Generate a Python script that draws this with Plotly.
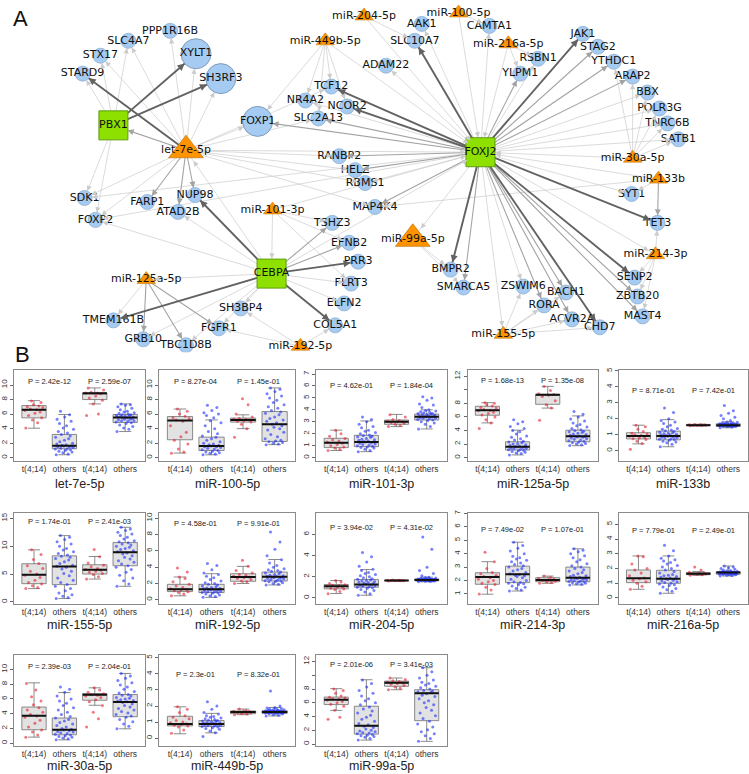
import math
import plotly.graph_objects as go

W, H = 749, 774

# ------------------------------------------------------------------ Panel A data
NODE_NAMES = ["PPP1R16B", "SLC4A7", "STX17", "STARD9", "SDK1", "FOXP2", "FARP1", "NUP98", "ATAD2B",
              "TMEM161B", "GRB10", "TBC1D8B", "FGFR1", "SH3BP4", "TSHZ3", "EFNB2", "PRR3", "FLRT3",
              "ELFN2", "COL5A1", "MAP4K4", "RBMS1", "HELZ", "RANBP2", "SLC2A13", "NR4A2", "NCOR2",
              "TCF12", "ADAM22", "SLC10A7", "AAK1", "CAMTA1", "RSBN1", "YLPM1", "JAK1", "STAG2",
              "YTHDC1", "ARAP2", "BBX", "POLR3G", "TNRC6B", "SATB1", "SYT1", "TET3", "SENP2",
              "ZBTB20", "MAST4", "CHD7", "ACVR2A", "BACH1", "RORA", "ZSWIM6", "SMARCA5", "BMPR2",
              "XYLT1", "SH3RF3", "FOXP1",
              "PBX1", "FOXJ2", "CEBPA",
              "miR-204-5p", "miR-100-5p", "miR-449b-5p", "miR-216a-5p", "miR-30a-5p", "miR-133b",
              "miR-214-3p", "miR-155-5p", "miR-192-5p", "miR-101-3p", "miR-125a-5p",
              "let-7e-5p", "miR-99a-5p"]
NODE_X = [167, 125, 97, 79, 81, 92, 144, 192, 175,
          110, 140, 183, 216, 238, 330, 347, 356, 349,
          342, 333, 373, 363, 353, 337, 316, 303, 345,
          329, 384, 413, 420, 488, 537, 519, 582, 597,
          613, 632, 647, 659, 667, 678, 631, 657, 634,
          637, 642, 599, 571, 565, 543, 522, 462, 449,
          193, 218, 255,
          110, 479, 269,
          362, 457, 323, 507, 632, 658,
          655, 502, 298, 270, 143,
          183, 411]
NODE_Y = [27, 37, 52, 70, 195, 217, 199, 192, 209,
          318, 337, 343, 326, 306, 220, 240, 259, 281,
          301, 323, 204, 180, 167, 153, 115, 97, 103,
          83, 62, 37, 20, 22, 55, 70, 30, 43,
          58, 73, 89, 105, 120, 136, 191, 220, 275,
          294, 314, 325, 317, 290, 303, 284, 285, 267,
          50, 75, 118,
          122, 149, 271,
          12, 9, 37, 40, 155, 176,
          252, 332, 344, 207, 277,
          147, 236]
NODE_KIND = ["g"] * 54 + ["G"] * 3 + ["t"] * 3 + ["m"] * 11 + ["M"] * 2

EDGE_SRC = (["PBX1"] * 7 + ["let-7e-5p"] * 20 + ["CEBPA"] * 17 + ["FOXJ2"] * 40 +
            ["miR-449b-5p"] * 6 + ["miR-204-5p"] * 2 + ["miR-100-5p"] * 2 + ["miR-216a-5p"] * 3 +
            ["miR-30a-5p"] * 7 + ["miR-133b"] * 4 + ["miR-214-3p"] * 4 + ["miR-155-5p"] * 5 +
            ["miR-99a-5p"] * 2 + ["miR-101-3p"] * 5 + ["miR-125a-5p"] * 4 + ["miR-192-5p"] * 3)
EDGE_DST = ["STARD9", "STX17", "SLC4A7", "XYLT1", "SH3RF3", "SDK1", "FOXP2",
            "PBX1", "STARD9", "STX17", "PPP1R16B", "SLC4A7", "XYLT1", "SH3RF3", "FOXP1", "SDK1", "FOXP2",
            "FARP1", "NUP98", "ATAD2B", "RANBP2", "HELZ", "RBMS1", "MAP4K4", "FOXJ2", "TCF12", "SLC2A13",
            "let-7e-5p", "NUP98", "ATAD2B", "FOXP2", "TSHZ3", "EFNB2", "PRR3", "FLRT3", "ELFN2", "COL5A1",
            "TMEM161B", "SH3BP4", "FGFR1", "TBC1D8B", "GRB10", "miR-125a-5p", "FOXJ2",
            "SLC10A7", "AAK1", "CAMTA1", "YLPM1", "RSBN1", "JAK1", "STAG2", "YTHDC1", "ARAP2", "BBX",
            "POLR3G", "TNRC6B", "SATB1", "SYT1", "TET3", "SENP2", "ZBTB20", "MAST4", "CHD7", "ACVR2A",
            "BACH1", "RORA", "ZSWIM6", "SMARCA5", "BMPR2", "MAP4K4", "RBMS1", "HELZ", "RANBP2", "FOXP1",
            "SLC2A13", "NCOR2", "TCF12", "NR4A2", "ADAM22", "miR-99a-5p", "miR-155-5p", "FOXP2", "SDK1",
            "miR-214-3p",
            "TCF12", "NR4A2", "NCOR2", "SLC2A13", "FOXP1", "FOXJ2",
            "SLC10A7", "FOXJ2",
            "FOXJ2", "CAMTA1",
            "YLPM1", "RSBN1", "FOXJ2",
            "YTHDC1", "ARAP2", "BBX", "POLR3G", "TNRC6B", "SATB1", "FOXJ2",
            "SYT1", "TET3", "FOXJ2", "MAP4K4",
            "TET3", "SENP2", "ZBTB20", "MAST4",
            "ZSWIM6", "RORA", "BACH1", "ACVR2A", "CHD7",
            "BMPR2", "SMARCA5",
            "CEBPA", "TSHZ3", "EFNB2", "FLRT3", "FOXJ2",
            "TMEM161B", "GRB10", "TBC1D8B", "FGFR1",
            "COL5A1", "FGFR1", "SH3BP4"]
EDGE_WT = [1, 1, 1, 3, 3, 1, 1,
           2, 3, 1, 1, 1, 1, 1, 1, 1, 1, 2, 2, 2, 1, 1, 1, 1, 1, 1, 1,
           1, 3, 1, 1, 2, 2, 3, 1, 1, 3, 3, 1, 1, 1, 1, 1, 1,
           3, 1, 1, 2, 1, 3, 2, 2, 2, 1, 1, 1, 1, 1, 3, 3, 2, 2, 3, 2,
           2, 2, 1, 2, 3, 2, 1, 2, 2, 2, 2, 3, 3, 1, 1, 1, 1, 1, 1, 1,
           1, 1, 1, 1, 1, 1,
           1, 1,
           1, 1,
           1, 1, 1,
           1, 1, 1, 1, 1, 1, 1,
           1, 2, 1, 1,
           1, 1, 1, 1,
           1, 1, 1, 1, 1,
           1, 1,
           1, 1, 1, 1, 1,
           1, 2, 2, 2,
           1, 1, 1]

# ------------------------------------------------------------------ Panel B data
MIRNAS = ["let-7e-5p", "miR-100-5p", "miR-101-3p", "miR-125a-5p", "miR-133b",
          "miR-155-5p", "miR-192-5p", "miR-204-5p", "miR-214-3p", "miR-216a-5p",
          "miR-30a-5p", "miR-449b-5p", "miR-99a-5p"]
GROUP_LABELS = ["t(4;14)", "others", "t(4;14)", "others"]
P_LEFT = ["2.42e-12", "8.27e-04", "4.62e-01", "1.68e-13", "8.71e-01",
          "1.74e-01", "4.58e-01", "3.94e-02", "7.49e-02", "7.79e-01",
          "2.39e-03", "2.3e-01", "2.01e-06"]
P_RIGHT = ["2.59e-07", "1.45e-01", "1.84e-04", "1.35e-08", "7.42e-01",
           "2.41e-03", "9.91e-01", "4.31e-02", "1.07e-01", "2.49e-01",
           "2.04e-01", "8.32e-01", "3.41e-03"]
Y_TICKS = [[0, 2, 4, 6, 8, 10], [0, 2, 4, 6, 8, 10], [0, 1, 2, 3, 4, 5, 6, 7],
           [0, 2, 4, 6, 8, 10, 12], [0, 1, 2, 3, 4, 5],
           [0, 5, 10, 15], [0, 2, 4, 6, 8, 10], [0, 2, 4, 6], [1, 2, 3, 4, 5, 6, 7], [0, 1, 2, 3, 4, 5],
           [0, 2, 4, 6, 8, 10], [0, 1, 2, 3, 4, 5], [0, 2, 4, 6, 8, 10, 12]]
Y_TICK_TEXT = [None, None, None, ["0", "2", "4", "6", "8", "", "12"], None,
               None, None, None, None, None,
               None, None, ["0", "2", "4", "6", "8", "", "12"]]
Y_RANGES = [[-0.4, 12.05], [-0.4, 12.05], [-0.25, 7.33], [-0.44, 12.9], [-0.62, 5.05],
            [-0.36, 15.9], [-0.5, 10.6], [-0.57, 8.0], [0.26, 7.0], [-0.4, 5.74],
            [-0.4, 12.0], [-0.5, 5.2], [-0.3, 13.0]]
P_Y = [10.55, 10.55, 6.08, 11.4, 3.8, 14.5, 9.35, 6.7, 5.8, 4.57, 10.45, 3.97, 11.6]

BOX_LOW = [[4.06, 0.41, 7.4, 3.6], [0.64, 0.4, 4.0, 1.8], [0.6, 0.5, 2.6, 2.4], [5.12, 0.4, 7.3, 1.76],
           [0.43, 0.25, 1.56, 1.44], [2.38, 0.6, 4.1, 2.8], [0.49, 0.3, 2.0, 1.82], [0.41, 0.25, 1.6, 1.52],
           [0.98, 1.22, 1.79, 1.67], [0.59, 0.32, 1.54, 1.49], [0.82, 0.45, 5.14, 1.95],
           [0.27, 0.33, 1.46, 1.38], [4.9, 0.58, 7.9, 0.4]]
BOX_Q1 = [[5.48, 1.23, 8.0, 4.84], [2.47, 1.0, 4.9, 2.24], [0.84, 0.92, 2.79, 3.15], [6.25, 1.12, 7.86, 2.34],
          [0.74, 0.68, 1.58, 1.52], [3.27, 3.1, 5.0, 6.49], [1.01, 0.89, 2.27, 2.3], [0.85, 1.01, 1.62, 1.61],
          [1.72, 1.84, 1.91, 1.91], [1.04, 1.0, 1.58, 1.61], [1.82, 1.14, 5.82, 3.59],
          [0.76, 0.72, 1.52, 1.54], [5.74, 1.45, 8.4, 3.4]]
BOX_MED = [[6.58, 1.64, 8.86, 5.52], [5.11, 1.6, 5.2, 4.6], [1.25, 1.31, 3.0, 3.43], [6.98, 1.6, 9.27, 3.17],
           [0.93, 0.93, 1.6, 1.6], [4.88, 6.37, 5.77, 8.93], [1.3, 1.3, 2.8, 2.83], [1.1, 1.26, 1.64, 1.7],
           [2.26, 2.46, 2.04, 2.21], [1.33, 1.31, 1.65, 1.72], [3.73, 1.82, 6.55, 5.59],
           [0.88, 0.88, 1.63, 1.63], [6.46, 2.65, 8.9, 7.4]]
BOX_Q3 = [[7.17, 3.2, 8.9, 5.94], [5.66, 2.83, 5.45, 6.35], [1.62, 1.87, 3.15, 3.65], [7.57, 2.34, 9.32, 4.05],
          [1.13, 1.23, 1.65, 1.69], [6.85, 8.27, 6.67, 10.65], [1.9, 1.9, 3.2, 3.4], [1.26, 1.74, 1.67, 1.8],
          [2.58, 3.07, 2.21, 3.0], [1.9, 1.88, 1.72, 1.79], [4.9, 3.41, 6.73, 6.59],
          [1.36, 1.09, 1.69, 1.71], [6.83, 5.5, 9.15, 7.9]]
BOX_HIGH = [[7.85, 5.94, 9.6, 7.4], [6.7, 5.2, 5.9, 9.6], [2.3, 3.07, 3.62, 4.0], [8.1, 4.05, 10.5, 6.15],
            [1.6, 1.95, 1.65, 1.81], [9.35, 11.9, 8.15, 13.4], [2.8, 3.2, 4.1, 4.94], [1.64, 2.68, 1.68, 1.96],
            [3.4, 4.85, 2.33, 4.36], [2.85, 2.85, 1.79, 2.17], [8.18, 6.86, 7.5, 9.45],
            [1.95, 1.54, 1.81, 1.91], [8.05, 9.35, 9.6, 11.1]]

PTS_LET7E = [[4.1, 4.8, 5.2, 5.5, 5.8, 6.1, 6.3, 6.5, 6.6, 6.7, 6.9, 7.0, 7.1, 7.3, 7.6, 7.8],
             [0.4, 0.5, 0.7, 0.8, 0.9, 1.0, 1.1, 1.2, 1.2, 1.3, 1.4, 1.5, 1.5, 1.6, 1.6, 1.7, 1.8, 1.9, 2.0,
              2.2, 2.4, 2.6, 2.8, 3.0, 3.2, 3.4, 3.6, 3.9, 4.1, 4.4, 4.7, 5.0, 5.3, 5.6, 5.9, 6.4],
             [5.8, 6.0, 7.4, 7.9, 8.2, 8.5, 8.8, 8.9, 8.9, 9.0, 9.3, 9.6],
             [3.6, 3.9, 4.1, 4.3, 4.5, 4.7, 4.8, 4.9, 5.0, 5.1, 5.1, 5.2, 5.3, 5.3, 5.4, 5.5, 5.5, 5.6, 5.6,
              5.7, 5.7, 5.8, 5.8, 5.9, 5.9, 6.0, 6.1, 6.2, 6.3, 6.4, 6.6, 6.8, 7.0, 7.2, 7.3, 7.4]]
PTS_MIR100 = [[0.6, 0.8, 1.2, 1.9, 2.4, 2.9, 3.5, 4.4, 5.0, 5.2, 5.4, 5.5, 5.7, 6.0, 6.4, 6.7],
              [0.4, 0.5, 0.6, 0.7, 0.8, 0.9, 1.0, 1.1, 1.2, 1.3, 1.4, 1.5, 1.5, 1.6, 1.7, 1.8, 1.9, 2.0,
               2.2, 2.4, 2.6, 2.8, 3.0, 3.3, 3.6, 4.0, 4.4, 4.8, 5.1, 5.5, 5.8, 6.0, 6.2, 6.5, 6.9, 7.2],
              [2.8, 4.0, 4.6, 4.9, 5.0, 5.1, 5.2, 5.3, 5.3, 5.4, 5.6, 6.0, 7.3, 8.1],
              [1.8, 1.9, 2.0, 2.1, 2.2, 2.3, 2.4, 2.6, 2.9, 3.2, 3.5, 3.8, 4.0, 4.2, 4.4, 4.6, 4.8, 5.0,
               5.2, 5.4, 5.6, 5.9, 6.1, 6.3, 6.5, 6.8, 7.0, 7.3, 7.6, 7.9, 8.2, 8.5, 8.8, 9.1, 9.4, 9.6]]
PTS_MIR101 = [[0.6, 0.7, 0.8, 0.9, 1.0, 1.1, 1.2, 1.3, 1.4, 1.5, 1.6, 1.8, 2.0, 2.3],
              [0.5, 0.6, 0.7, 0.8, 0.85, 0.9, 0.95, 1.0, 1.05, 1.1, 1.15, 1.2, 1.25, 1.3, 1.3, 1.35, 1.4,
               1.45, 1.5, 1.55, 1.6, 1.7, 1.75, 1.8, 1.85, 1.9, 2.0, 2.1, 2.2, 2.3, 2.5, 2.6, 2.8, 3.0, 3.2, 3.4],
              [2.6, 2.7, 2.8, 2.9, 2.95, 3.0, 3.0, 3.05, 3.1, 3.2, 3.4, 3.6],
              [2.4, 2.6, 2.8, 2.9, 3.0, 3.1, 3.15, 3.2, 3.25, 3.3, 3.3, 3.35, 3.4, 3.4, 3.45, 3.45, 3.5, 3.5,
               3.55, 3.6, 3.6, 3.65, 3.7, 3.7, 3.75, 3.8, 3.85, 3.9, 3.95, 4.0, 4.2, 4.4, 4.5, 4.8, 5.0, 5.1]]
PTS_MIR125A = [[4.3, 5.1, 5.6, 6.0, 6.3, 6.5, 6.7, 6.9, 7.0, 7.1, 7.3, 7.4, 7.6, 7.8, 8.0, 8.1],
               [0.4, 0.6, 0.7, 0.8, 0.9, 1.0, 1.1, 1.15, 1.2, 1.3, 1.35, 1.4, 1.5, 1.55, 1.6, 1.65, 1.7, 1.8,
                1.9, 2.0, 2.1, 2.2, 2.3, 2.4, 2.6, 2.8, 3.0, 3.2, 3.5, 3.8, 4.0, 4.3, 4.6, 5.0, 5.3, 5.6],
               [5.5, 7.3, 7.8, 8.4, 9.0, 9.2, 9.3, 9.4, 9.9, 10.5],
               [1.8, 1.9, 2.0, 2.1, 2.2, 2.3, 2.4, 2.5, 2.6, 2.7, 2.8, 2.9, 3.0, 3.05, 3.1, 3.15, 3.2, 3.3,
                3.4, 3.5, 3.6, 3.7, 3.8, 3.9, 4.0, 4.1, 4.3, 4.5, 4.7, 4.9, 5.1, 5.4, 5.7, 6.0, 6.4, 6.8]]
PTS_MIR133B = [[0.1, 0.45, 0.6, 0.7, 0.75, 0.8, 0.85, 0.9, 0.95, 1.0, 1.05, 1.1, 1.2, 1.35, 1.5, 1.6],
               [0.25, 0.4, 0.5, 0.55, 0.6, 0.65, 0.7, 0.72, 0.75, 0.8, 0.82, 0.85, 0.88, 0.9, 0.92, 0.95, 0.98,
                1.0, 1.03, 1.06, 1.1, 1.13, 1.16, 1.2, 1.25, 1.3, 1.35, 1.4, 1.5, 1.6, 1.7, 1.8, 1.9, 2.0,
                2.4, 2.67],
               [1.56, 1.58, 1.59, 1.6, 1.6, 1.61, 1.62, 1.63, 1.64, 1.65],
               [1.44, 1.48, 1.5, 1.52, 1.53, 1.54, 1.55, 1.56, 1.57, 1.58, 1.59, 1.6, 1.6, 1.6, 1.61, 1.62,
                1.63, 1.64, 1.65, 1.66, 1.67, 1.68, 1.69, 1.7, 1.72, 1.74, 1.76, 1.78, 1.8, 1.9, 2.0, 2.1,
                2.2, 2.35, 2.5, 2.84]]
PTS_MIR155 = [[2.4, 2.6, 2.9, 3.2, 3.5, 3.9, 4.4, 4.8, 5.0, 5.5, 6.0, 6.5, 6.9, 7.6, 8.5, 9.35],
              [0.6, 0.8, 1.0, 1.3, 1.6, 2.0, 2.4, 2.8, 3.1, 3.5, 3.9, 4.3, 4.7, 5.1, 5.5, 5.9, 6.2, 6.4,
               6.6, 6.9, 7.2, 7.5, 7.8, 8.0, 8.2, 8.4, 8.7, 9.0, 9.3, 9.6, 10.0, 10.4, 10.8, 11.2, 11.6, 11.9],
              [4.1, 4.5, 4.9, 5.1, 5.3, 5.5, 5.7, 5.8, 6.0, 6.3, 6.6, 7.0, 8.1, 9.4],
              [2.8, 3.2, 3.8, 4.3, 4.8, 5.3, 5.8, 6.2, 6.5, 6.8, 7.1, 7.4, 7.7, 8.0, 8.3, 8.6, 8.8, 9.0,
               9.2, 9.4, 9.6, 9.8, 10.0, 10.2, 10.4, 10.6, 10.8, 11.0, 11.3, 11.6, 11.9, 12.2, 12.5, 12.8,
               13.1, 13.4]]
PTS_MIR192 = [[0.5, 0.7, 0.9, 1.0, 1.1, 1.2, 1.3, 1.35, 1.5, 1.7, 1.9, 2.2, 2.6, 2.8, 3.4, 3.9],
              [0.3, 0.4, 0.5, 0.6, 0.7, 0.8, 0.85, 0.9, 0.95, 1.0, 1.05, 1.1, 1.15, 1.2, 1.25, 1.3, 1.3, 1.35,
               1.4, 1.45, 1.5, 1.6, 1.7, 1.8, 1.9, 2.0, 2.1, 2.3, 2.5, 2.7, 2.9, 3.1, 3.3, 3.7, 4.2, 4.45],
              [2.0, 2.2, 2.3, 2.5, 2.6, 2.7, 2.8, 2.9, 3.0, 3.1, 3.3, 3.6, 4.1, 4.86],
              [1.8, 1.9, 2.0, 2.1, 2.2, 2.25, 2.3, 2.35, 2.4, 2.5, 2.55, 2.6, 2.65, 2.7, 2.75, 2.8, 2.85, 2.9,
               2.95, 3.0, 3.1, 3.2, 3.3, 3.4, 3.5, 3.6, 3.7, 3.8, 4.0, 4.2, 4.5, 4.9, 5.4, 6.2, 7.1, 8.3]]
PTS_MIR204 = [[0.4, 0.6, 0.8, 0.85, 0.9, 1.0, 1.05, 1.1, 1.15, 1.2, 1.25, 1.35, 1.5, 1.64],
              [0.25, 0.4, 0.55, 0.7, 0.8, 0.9, 0.95, 1.0, 1.05, 1.1, 1.15, 1.2, 1.25, 1.3, 1.35, 1.4, 1.45,
               1.5, 1.55, 1.6, 1.65, 1.7, 1.75, 1.8, 1.9, 2.0, 2.1, 2.2, 2.3, 2.4, 2.6, 2.7, 3.0, 3.4, 3.9, 4.3],
              [1.6, 1.61, 1.62, 1.63, 1.64, 1.64, 1.65, 1.66, 1.67, 1.68],
              [1.52, 1.55, 1.57, 1.6, 1.61, 1.62, 1.63, 1.64, 1.65, 1.66, 1.67, 1.68, 1.69, 1.7, 1.7, 1.71,
               1.72, 1.73, 1.74, 1.75, 1.76, 1.77, 1.78, 1.79, 1.8, 1.82, 1.85, 1.88, 1.92, 1.96, 2.1, 2.3,
               2.6, 2.9, 4.6, 5.75]]
PTS_MIR214 = [[1.0, 1.3, 1.5, 1.7, 1.8, 1.9, 2.0, 2.1, 2.2, 2.3, 2.4, 2.5, 2.6, 2.9, 3.4, 4.1],
              [1.22, 1.3, 1.4, 1.5, 1.6, 1.7, 1.75, 1.8, 1.85, 1.9, 2.0, 2.1, 2.2, 2.3, 2.35, 2.4, 2.45, 2.5,
               2.6, 2.7, 2.8, 2.9, 3.0, 3.1, 3.2, 3.3, 3.4, 3.5, 3.6, 3.7, 3.8, 4.0, 4.2, 4.4, 4.6, 4.85],
              [1.8, 1.85, 1.9, 1.95, 2.0, 2.05, 2.1, 2.15, 2.25, 2.33],
              [1.67, 1.72, 1.76, 1.8, 1.84, 1.88, 1.9, 1.93, 1.96, 2.0, 2.03, 2.06, 2.1, 2.13, 2.16, 2.2, 2.25,
               2.3, 2.35, 2.4, 2.5, 2.6, 2.7, 2.8, 2.9, 3.0, 3.1, 3.25, 3.4, 3.55, 3.7, 3.85, 4.0, 4.15,
               4.25, 4.36]]
PTS_MIR216A = [[0.6, 0.8, 1.0, 1.1, 1.2, 1.3, 1.35, 1.5, 1.7, 1.9, 2.0, 2.3, 2.8, 2.85],
               [0.32, 0.45, 0.55, 0.65, 0.75, 0.85, 0.9, 0.95, 1.0, 1.05, 1.1, 1.15, 1.2, 1.25, 1.3, 1.3, 1.35,
                1.4, 1.45, 1.5, 1.55, 1.6, 1.7, 1.8, 1.9, 2.0, 2.1, 2.2, 2.3, 2.4, 2.5, 2.6, 2.7, 2.85, 3.2,
                3.57],
               [1.54, 1.57, 1.6, 1.63, 1.65, 1.67, 1.7, 1.75, 1.9, 2.1],
               [1.49, 1.52, 1.55, 1.57, 1.59, 1.6, 1.61, 1.62, 1.63, 1.64, 1.65, 1.66, 1.67, 1.68, 1.69, 1.7,
                1.71, 1.72, 1.72, 1.73, 1.74, 1.75, 1.76, 1.77, 1.78, 1.79, 1.8, 1.82, 1.84, 1.86, 1.9, 1.95,
                2.0, 2.05, 2.1, 2.17]]
PTS_MIR30A = [[0.8, 1.1, 1.5, 1.8, 2.2, 2.7, 3.1, 3.5, 3.7, 3.9, 4.2, 4.5, 4.8, 5.2, 5.7, 6.3, 7.2, 8.1],
              [0.45, 0.6, 0.7, 0.8, 0.9, 1.0, 1.1, 1.2, 1.3, 1.4, 1.5, 1.6, 1.7, 1.8, 1.9, 2.0, 2.2, 2.4,
               2.6, 2.8, 3.0, 3.2, 3.4, 3.6, 3.9, 4.2, 4.5, 4.8, 5.1, 5.4, 5.7, 6.0, 6.4, 6.9, 7.3, 7.6],
              [2.2, 3.3, 4.2, 5.1, 5.6, 5.9, 6.2, 6.4, 6.5, 6.6, 6.7, 6.9, 7.2, 7.5],
              [1.95, 2.3, 2.6, 2.9, 3.2, 3.5, 3.7, 3.9, 4.1, 4.3, 4.5, 4.7, 4.9, 5.1, 5.3, 5.5, 5.6, 5.7,
               5.8, 5.9, 6.0, 6.1, 6.2, 6.4, 6.5, 6.6, 6.8, 7.0, 7.3, 7.6, 7.9, 8.2, 8.5, 8.8, 9.1, 9.45]]
PTS_MIR449B = [[0.3, 0.5, 0.7, 0.75, 0.8, 0.85, 0.9, 0.95, 1.0, 1.1, 1.2, 1.3, 1.4, 1.6, 1.8, 1.95],
               [0.1, 0.33, 0.45, 0.55, 0.6, 0.65, 0.7, 0.72, 0.75, 0.78, 0.8, 0.82, 0.84, 0.86, 0.88, 0.9,
                0.92, 0.94, 0.96, 0.98, 1.0, 1.03, 1.06, 1.09, 1.12, 1.16, 1.2, 1.25, 1.3, 1.35, 1.4, 1.5,
                1.6, 1.8, 2.0, 2.26],
               [1.46, 1.5, 1.53, 1.57, 1.6, 1.63, 1.65, 1.68, 1.72, 1.81],
               [1.38, 1.42, 1.46, 1.5, 1.52, 1.54, 1.55, 1.56, 1.57, 1.58, 1.59, 1.6, 1.61, 1.62, 1.63, 1.63,
                1.64, 1.65, 1.66, 1.67, 1.68, 1.69, 1.7, 1.71, 1.72, 1.73, 1.74, 1.76, 1.78, 1.8, 1.82, 1.85,
                1.88, 1.91, 2.0, 2.94]]
PTS_MIR99A = [[3.6, 3.9, 4.9, 5.5, 5.8, 6.0, 6.2, 6.4, 6.5, 6.6, 6.7, 6.8, 7.0, 7.4, 7.8, 8.0],
              [0.6, 0.8, 1.0, 1.1, 1.2, 1.3, 1.4, 1.5, 1.6, 1.7, 1.8, 1.9, 2.0, 2.2, 2.4, 2.6, 2.8, 3.0,
               3.3, 3.6, 3.9, 4.2, 4.5, 4.8, 5.1, 5.4, 5.7, 6.0, 6.3, 6.6, 7.0, 7.4, 7.8, 8.3, 8.8, 9.3],
              [7.9, 8.1, 8.3, 8.5, 8.7, 8.8, 8.9, 9.0, 9.1, 9.2, 9.4, 9.6],
              [0.4, 0.8, 1.2, 1.5, 1.8, 2.1, 2.5, 2.9, 3.3, 3.7, 4.1, 4.5, 4.9, 5.3, 5.7, 6.0, 6.3, 6.6,
               6.9, 7.1, 7.3, 7.5, 7.6, 7.7, 7.8, 8.0, 8.2, 8.4, 8.6, 8.8, 9.0, 9.3, 9.6, 10.0, 10.5, 11.1]]
PANEL_POINTS = [PTS_LET7E, PTS_MIR100, PTS_MIR101, PTS_MIR125A, PTS_MIR133B, PTS_MIR155, PTS_MIR192,
                PTS_MIR204, PTS_MIR214, PTS_MIR216A, PTS_MIR30A, PTS_MIR449B, PTS_MIR99A]

# ------------------------------------------------------------------ styles / layout geometry
FONT_R = "Liberation Sans, Arial, sans-serif"
FONT_NET = "DejaVu Sans, sans-serif"
COL_LEFT = [10, 156, 314, 466, 618]
COL_RIGHT = [142, 293, 445, 597, 748]
ROW_TOP = [368, 512, 654]
ROW_BOT = [459, 603, 746]
TITLE_Y = [482, 624, 766]
JIT = [-0.27, 0.12, -0.05, 0.25, -0.18, 0.03, 0.2, -0.3, 0.09, -0.12, 0.29, -0.22, 0.16, -0.02, 0.23,
       -0.08, 0.06, -0.25, 0.27, -0.15, 0.0, 0.14, -0.29, 0.19, -0.1, 0.1, -0.2, 0.3, -0.04, 0.07, -0.16,
       0.22, -0.24, 0.01, 0.17, -0.13]

fig = go.Figure()
annotations = []

# ------------------------------------------------------------------ Panel A (network)
pos = {n: (x, y) for n, x, y in zip(NODE_NAMES, NODE_X, NODE_Y)}
kind = dict(zip(NODE_NAMES, NODE_KIND))
RADIUS = {"g": 7.5, "G": 15, "m": 8, "M": 13, "t": 15}
EDGE_STYLE = {1: ("#cbcbcb", 0.7, 1.5), 2: ("#a3a3a3", 1.1, 1.1), 3: ("#626262", 1.9, 0.75)}

for wt in (1, 2, 3):
    xs, ys = [], []
    for s, d, w in zip(EDGE_SRC, EDGE_DST, EDGE_WT):
        if w != wt:
            continue
        xs += [pos[s][0], pos[d][0], None]
        ys += [pos[s][1], pos[d][1], None]
    col, lw, _ = EDGE_STYLE[wt]
    fig.add_trace(go.Scatter(x=xs, y=ys, mode="lines", line=dict(color=col, width=lw),
                             hoverinfo="skip", showlegend=False, xaxis="x", yaxis="y"))

for s, d, w in zip(EDGE_SRC, EDGE_DST, EDGE_WT):
    sx, sy = pos[s]
    tx, ty = pos[d]
    L = math.hypot(sx - tx, sy - ty)
    ux, uy = (sx - tx) / L, (sy - ty) / L
    r = RADIUS[kind[d]]
    col, lw, asz = EDGE_STYLE[w]
    annotations.append(dict(x=tx, y=ty, xref="x", yref="y", ax=ux * (r + 6), ay=uy * (r + 6),
                            showarrow=True, arrowhead=2, arrowsize=asz, arrowwidth=lw,
                            arrowcolor=col, standoff=r, text=""))

STYLE_NODE = {
    "g": dict(symbol="circle", size=15, color="#a6cbf2", line=dict(color="#8fb0d0", width=0.8)),
    "G": dict(symbol="circle", size=30, color="#a6cbf2", line=dict(color="#7f9cba", width=1)),
    "m": dict(symbol="triangle-up", size=16, color="#ff9400", line=dict(color="#c77a10", width=0.6)),
    "M": dict(symbol="triangle-up", size=30, color="#ff9400", line=dict(color="#c77a10", width=0.8)),
    "t": dict(symbol="square", size=29, color="#8ee000", line=dict(color="#5f9c10", width=1)),
}
for k in ("g", "G", "m", "M", "t"):
    xs = [x for x, kk in zip(NODE_X, NODE_KIND) if kk == k]
    ys = [y for y, kk in zip(NODE_Y, NODE_KIND) if kk == k]
    fig.add_trace(go.Scatter(x=xs, y=ys, mode="markers", marker=STYLE_NODE[k],
                             hoverinfo="skip", showlegend=False, xaxis="x", yaxis="y"))
fig.add_trace(go.Scatter(x=NODE_X, y=NODE_Y, mode="text", text=NODE_NAMES, textposition="middle center",
                         textfont=dict(family=FONT_NET, size=11, color="#111"),
                         hoverinfo="skip", showlegend=False, xaxis="x", yaxis="y"))

layout_axes = dict(
    xaxis=dict(domain=[0, 1], range=[0, W], visible=False, fixedrange=True),
    yaxis=dict(domain=[1 - 350 / H, 1], range=[350, 0], visible=False, fixedrange=True),
)

# ------------------------------------------------------------------ Panel B (box plots)
for k, name in enumerate(MIRNAS):
    n = k + 2
    row, col = divmod(k, 5)
    xa, ya = f"x{n}", f"y{n}"
    fig.add_trace(go.Box(x=[1, 2, 3, 4], q1=BOX_Q1[k], median=BOX_MED[k], q3=BOX_Q3[k],
                         lowerfence=BOX_LOW[k], upperfence=BOX_HIGH[k], width=0.8, whiskerwidth=0.5,
                         fillcolor="#e2e2e2", line=dict(color="#6e6e6e", width=0.8), boxpoints=False,
                         hoverinfo="skip", showlegend=False, xaxis=xa, yaxis=ya))
    for gi in range(4):
        vals = PANEL_POINTS[k][gi]
        xs = [gi + 1 + JIT[i % len(JIT)] for i in range(len(vals))]
        color = "rgba(228,30,45,0.6)" if gi % 2 == 0 else "rgba(25,45,255,0.6)"
        fig.add_trace(go.Scatter(x=xs, y=vals, mode="markers",
                                 marker=dict(size=3, color=color, line=dict(width=0)),
                                 hoverinfo="skip", showlegend=False, xaxis=xa, yaxis=ya))
    mx, my = [], []
    for gi in range(4):
        mx += [gi + 1 - 0.4, gi + 1 + 0.4, None]
        my += [BOX_MED[k][gi], BOX_MED[k][gi], None]
    fig.add_trace(go.Scatter(x=mx, y=my, mode="lines", line=dict(color="#111", width=2),
                             hoverinfo="skip", showlegend=False, xaxis=xa, yaxis=ya))

    l, r = COL_LEFT[col], COL_RIGHT[col]
    t, b = ROW_TOP[row], ROW_BOT[row]
    sfx = str(n)
    layout_axes["xaxis" + sfx] = dict(
        domain=[l / W, r / W], anchor=ya, range=[0.34, 4.66], tickvals=[1, 2, 3, 4],
        ticktext=GROUP_LABELS, ticks="", showline=True, mirror=True, linecolor="#8a8a8a", linewidth=1,
        showgrid=False, zeroline=False, tickfont=dict(family=FONT_R, size=8.5, color="#333"),
        fixedrange=True)
    yt = Y_TICKS[k]
    ytt = Y_TICK_TEXT[k] if Y_TICK_TEXT[k] is not None else [str(v) for v in yt]
    layout_axes["yaxis" + sfx] = dict(
        domain=[1 - b / H, 1 - t / H], anchor=xa, range=Y_RANGES[k], tickvals=yt, ticktext=ytt,
        tickangle=-90, ticks="outside", ticklen=3, tickcolor="#666", showline=True, mirror=True,
        linecolor="#8a8a8a", linewidth=1, showgrid=False, zeroline=False,
        tickfont=dict(family=FONT_R, size=8, color="#333"), fixedrange=True)

    annotations.append(dict(x=1.5, y=P_Y[k], xref=xa, yref=ya, text="P = " + P_LEFT[k], showarrow=False,
                            xanchor="center", font=dict(family=FONT_R, size=7.5, color="#222")))
    annotations.append(dict(x=3.5, y=P_Y[k], xref=xa, yref=ya, text="P = " + P_RIGHT[k], showarrow=False,
                            xanchor="center", font=dict(family=FONT_R, size=7.5, color="#222")))
    annotations.append(dict(x=(l + r) / 2 / W, y=1 - TITLE_Y[row] / H, xref="paper", yref="paper",
                            text=name, showarrow=False, xanchor="center", yanchor="middle",
                            font=dict(family=FONT_R, size=12.5, color="#222")))

annotations.append(dict(x=7 / W, y=1 - 15 / H, xref="paper", yref="paper", text="A", showarrow=False,
                        xanchor="left", yanchor="middle", font=dict(family=FONT_R, size=22, color="#111")))
annotations.append(dict(x=9 / W, y=1 - 352 / H, xref="paper", yref="paper", text="B", showarrow=False,
                        xanchor="left", yanchor="middle", font=dict(family=FONT_R, size=22, color="#111")))

fig.update_layout(width=W, height=H, margin=dict(l=0, r=0, t=0, b=0), paper_bgcolor="white",
                  plot_bgcolor="white", showlegend=False, annotations=annotations,
                  **layout_axes)
fig.write_html("out.html", config={"displayModeBar": False},
               post_script="document.body.style.margin='0';document.body.style.padding='0';")
